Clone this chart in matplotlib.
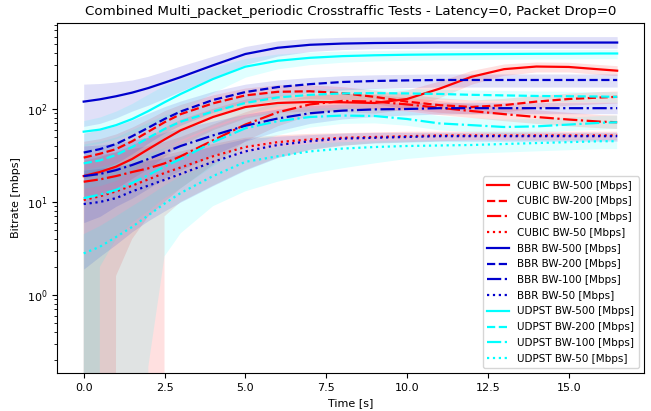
import numpy as np
import matplotlib
matplotlib.use('Agg')
import matplotlib.pyplot as plt

# time grid [s]
t = [0, 0.5, 1, 1.5, 2, 2.5, 3, 4, 5, 6, 7, 8, 9, 10, 11, 12, 13, 14, 15, 16, 16.5]

# mean bitrate [Mbps] per test
cubic_500 = [19, 21, 24, 29, 37, 47, 59, 82, 105, 116, 119, 118, 116, 128, 165, 222, 268, 286, 283, 266, 258]
cubic_200 = [30, 33, 37, 45, 57, 72, 88, 115, 140, 153, 155, 148, 135, 120, 110, 105, 110, 120, 128, 133, 135]
cubic_100 = [16.5, 17.5, 19, 21, 23, 26, 31, 46, 68, 92, 112, 122, 120, 112, 103, 95, 88, 82, 77, 73, 72]
cubic_50 = [10.5, 11.5, 13, 15, 17.5, 20.5, 23.5, 31, 39, 44, 47, 49, 50, 51, 52, 52, 52, 52, 52, 52, 52]
bbr_500 = [120, 127, 137, 150, 168, 192, 220, 295, 390, 455, 490, 505, 512, 515, 518, 518, 518, 518, 518, 518, 518]
bbr_200 = [34, 37, 42, 51, 63, 78, 94, 125, 152, 172, 185, 195, 200, 203, 205, 205, 205, 205, 205, 205, 205]
bbr_100 = [19, 20, 22, 25, 29, 34, 40, 52, 66, 79, 90, 96, 99, 100, 102, 102, 102, 102, 102, 102, 102]
bbr_50 = [9.5, 10, 11, 13, 15, 17.3, 20, 27, 35, 41, 45, 48, 49, 50, 51, 51, 51, 51, 51, 51, 51]
udpst_500 = [57, 60, 67, 78, 95, 118, 145, 210, 285, 330, 355, 370, 378, 383, 386, 388, 390, 392, 393, 395, 395]
udpst_200 = [26, 28, 32, 39, 49, 61, 73, 94, 116, 133, 142, 147, 148, 147, 145, 142, 140, 138, 137, 136, 135]
udpst_100 = [11, 12, 13.5, 16, 19.5, 24, 29, 44, 62, 74, 82, 85, 84, 78, 70, 67, 64, 65, 68, 71, 72]
udpst_50 = [2.8, 3.3, 4.2, 5.4, 7.2, 9.6, 12.5, 19, 27, 31, 35, 37.5, 39, 40, 40.5, 41, 42, 43, 44, 45, 45]

# band edges (lower / upper)
cubic_500_lo = [11, 12, 14, 18, 23, 31, 41, 60, 80, 92, 95, 94, 90, 100, 132, 185, 230, 250, 250, 235, 228]
cubic_500_hi = [28, 31, 35, 41, 50, 64, 78, 102, 128, 140, 145, 145, 145, 160, 200, 260, 305, 320, 318, 300, 292]
cubic_200_lo = [18, 20, 23, 29, 38, 50, 62, 85, 108, 125, 130, 125, 114, 100, 92, 88, 93, 102, 110, 114, 116]
cubic_200_hi = [45, 48, 54, 64, 78, 96, 112, 142, 168, 182, 182, 174, 160, 145, 132, 125, 130, 140, 148, 154, 156]
cubic_100_lo = [0, 0, 1.6, 4, 7, 10, 14, 25, 45, 65, 85, 100, 100, 94, 86, 80, 74, 69, 65, 62, 61]
cubic_100_hi = [30, 32, 34, 37, 40, 44, 50, 68, 92, 118, 138, 146, 142, 132, 122, 112, 104, 97, 91, 86, 85]
cubic_50_lo = [0, 0, 0, 0, 0, 7, 10, 15, 22, 30, 36, 40, 43, 44, 45, 46, 46, 46, 46, 46, 46]
cubic_50_hi = [20, 22, 24, 26, 29, 32, 35, 42, 49, 52, 54, 55, 56, 57, 57, 57, 57, 57, 57, 57, 57]
bbr_500_lo = [65, 70, 80, 95, 110, 130, 155, 215, 300, 370, 415, 435, 445, 448, 450, 450, 450, 450, 450, 450, 450]
bbr_500_hi = [185, 188, 195, 205, 225, 255, 290, 370, 470, 540, 575, 590, 595, 598, 600, 600, 600, 600, 600, 600, 600]
bbr_200_lo = [20, 22, 26, 33, 43, 55, 67, 92, 118, 138, 150, 160, 166, 170, 172, 172, 172, 172, 172, 172, 172]
bbr_200_hi = [55, 60, 66, 76, 90, 106, 122, 155, 185, 205, 218, 228, 233, 236, 238, 238, 238, 238, 238, 238, 238]
bbr_100_lo = [6, 7, 9, 11, 14, 18, 22, 32, 45, 58, 70, 78, 83, 86, 88, 89, 89, 89, 89, 89, 89]
bbr_100_hi = [40, 41, 43, 46, 50, 56, 62, 74, 88, 100, 109, 113, 115, 116, 117, 118, 118, 118, 118, 118, 118]
bbr_50_lo = [1.9, 2.6, 3.5, 4.8, 6.3, 8, 10, 15, 22, 30, 37, 41, 43, 44, 45, 45, 45, 45, 45, 45, 45]
bbr_50_hi = [22, 23, 24, 26, 28, 30, 33, 40, 48, 51, 53, 55, 56, 56, 56, 56, 56, 56, 56, 56, 56]
udpst_500_lo = [40, 43, 48, 55, 64, 78, 95, 150, 220, 270, 300, 318, 328, 334, 338, 340, 342, 344, 345, 347, 347]
udpst_500_hi = [75, 82, 95, 115, 145, 180, 210, 280, 350, 390, 410, 420, 425, 428, 430, 432, 434, 436, 437, 438, 438]
udpst_200_lo = [14, 15, 17, 22, 29, 38, 47, 66, 88, 108, 120, 127, 129, 129, 128, 125, 123, 121, 120, 119, 118]
udpst_200_hi = [42, 45, 50, 60, 72, 86, 98, 122, 142, 156, 163, 167, 167, 166, 163, 160, 158, 156, 155, 154, 153]
udpst_100_lo = [0, 2, 4, 6, 8, 11, 14, 24, 38, 52, 63, 69, 70, 66, 59, 56, 54, 55, 58, 60, 61]
udpst_100_hi = [22, 24, 26, 29, 33, 38, 44, 62, 82, 94, 101, 103, 101, 94, 84, 80, 77, 78, 81, 84, 85]
udpst_50_lo = [0, 0, 0, 0, 0.17, 2.6, 4.6, 9, 13, 16.5, 20, 23, 26, 29, 31, 33, 34, 35, 36, 37, 37]
udpst_50_hi = [4.5, 5.5, 7, 9, 11.5, 15, 19, 26, 34, 39, 42, 44, 45, 46, 46, 46, 46, 47, 47, 47, 47]

series = [
    ('CUBIC BW-500 [Mbps]', cubic_500, cubic_500_lo, cubic_500_hi, 'red', '-'),
    ('CUBIC BW-200 [Mbps]', cubic_200, cubic_200_lo, cubic_200_hi, 'red', '--'),
    ('CUBIC BW-100 [Mbps]', cubic_100, cubic_100_lo, cubic_100_hi, 'red', '-.'),
    ('CUBIC BW-50 [Mbps]', cubic_50, cubic_50_lo, cubic_50_hi, 'red', ':'),
    ('BBR BW-500 [Mbps]', bbr_500, bbr_500_lo, bbr_500_hi, 'mediumblue', '-'),
    ('BBR BW-200 [Mbps]', bbr_200, bbr_200_lo, bbr_200_hi, 'mediumblue', '--'),
    ('BBR BW-100 [Mbps]', bbr_100, bbr_100_lo, bbr_100_hi, 'mediumblue', '-.'),
    ('BBR BW-50 [Mbps]', bbr_50, bbr_50_lo, bbr_50_hi, 'mediumblue', ':'),
    ('UDPST BW-500 [Mbps]', udpst_500, udpst_500_lo, udpst_500_hi, 'cyan', '-'),
    ('UDPST BW-200 [Mbps]', udpst_200, udpst_200_lo, udpst_200_hi, 'cyan', '--'),
    ('UDPST BW-100 [Mbps]', udpst_100, udpst_100_lo, udpst_100_hi, 'cyan', '-.'),
    ('UDPST BW-50 [Mbps]', udpst_50, udpst_50_lo, udpst_50_hi, 'cyan', ':'),
]

fig = plt.figure(figsize=(6.51, 4.11), dpi=100)
ax = fig.add_axes([0.0876, 0.0925, 0.9014, 0.8515])

for label, mean, lo, hi, color, ls in series:
    ax.plot(t, mean, color=color, linestyle=ls, linewidth=1.6, label=label)
    ax.fill_between(t, lo, hi, color=color, alpha=0.12, linewidth=0)

ax.set_yscale('log')
ax.set_ylim(0.145, 840)
ax.set_xlim(-0.825, 17.325)
ax.set_xticks([0.0, 2.5, 5.0, 7.5, 10.0, 12.5, 15.0])
ax.tick_params(labelsize=8)
ax.set_xlabel('Time [s]', fontsize=8)
ax.set_ylabel('Bitrate [mbps]', fontsize=8)
ax.set_title('Combined Multi_packet_periodic Crosstraffic Tests - Latency=0, Packet Drop=0', fontsize=9.6)
ax.legend(loc='lower right', fontsize=7.5, labelspacing=0.55, handlelength=2.1)

plt.savefig('out.png', dpi=100)
